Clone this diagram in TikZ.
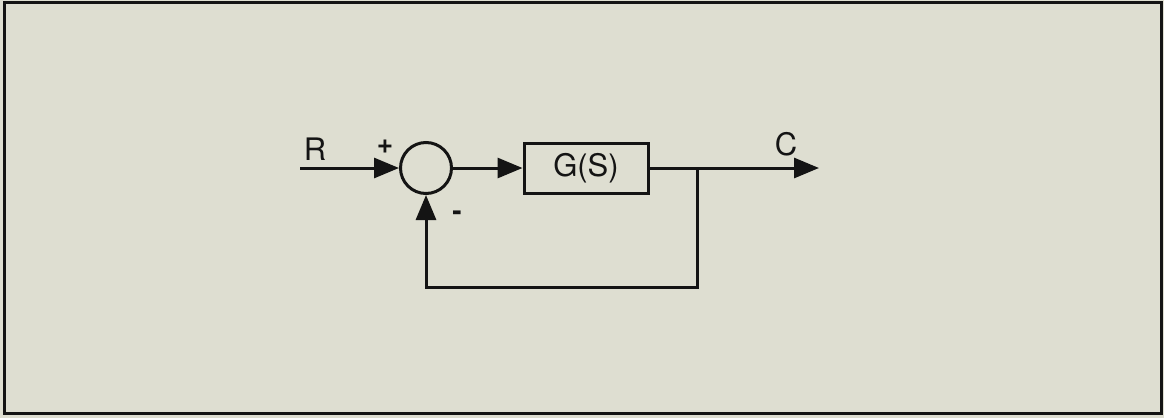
\documentclass[tikz,border=0pt]{standalone}
\usepackage{fontspec}
\setmainfont{TeX Gyre Heros}
\usetikzlibrary{arrows.meta}
\definecolor{paper}{RGB}{222,222,209}
\definecolor{ink}{RGB}{20,20,20}
\tikzset{
  wire/.style={line width=3pt, draw=ink, -{Triangle[length=25pt,width=20pt]}},
  plain/.style={line width=3pt, draw=ink},
  lbl/.style={font=\fontsize{31}{34}\selectfont, text=ink, inner sep=0pt},
  sign/.style={font=\fontsize{28}{30}\selectfont\bfseries, text=ink, inner sep=0pt}
}
\begin{document}
\begin{tikzpicture}[x=1pt,y=-1pt]
\fill[paper] (0,0) rectangle (1164,418);
\useasboundingbox (0,0) rectangle (1164,418);
\draw[line width=3pt, draw=ink] (4,2.5) rectangle (1161.5,413);
\node[circle, plain, minimum size=51pt, inner sep=0pt] (sum) at (426,168) {};
\node[plain, rectangle, minimum width=124pt, minimum height=50pt, lbl, inner sep=0pt] (G) at (586,168) {G(S)};
\coordinate (in) at (300,168);
\coordinate (out) at (819,168);
\coordinate (br) at (697,168);
\coordinate (bot) at (697,287);
\draw[wire] (in) -- (sum);
\draw[wire] (sum) -- (G);
\draw[wire] (G) -- (out);
\draw[wire] (br) -- (bot) -| (sum.south);
\node[lbl] (R) at (315,149) {R};
\node[lbl] (C) at (786,144) {C};
\node[sign] (plus) at (385,147) {+};
\node[sign] (minus) at (457,216) {-};
\end{tikzpicture}
\end{document}
